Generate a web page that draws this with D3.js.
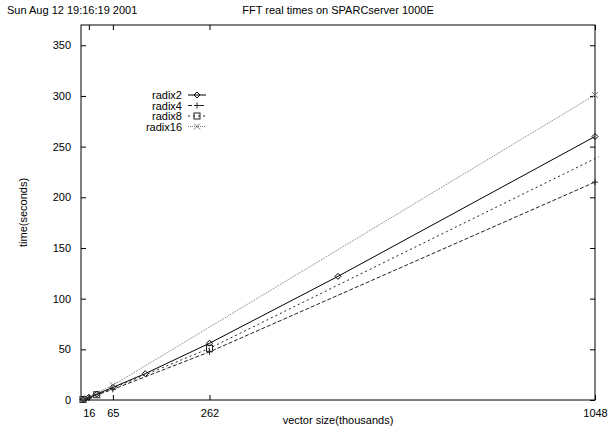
<!DOCTYPE html>
<html>
<head>
<meta charset="utf-8">
<style>
body { margin: 0; background: #fff; }
text { font-family: "Liberation Sans", Arial, sans-serif; font-size: 11px; fill: #000; }
.line { fill: none; stroke-width: 1; }
</style>
</head>
<body>
<svg width="609" height="434"></svg>
<script src="https://d3js.org/d3.v7.min.js"></script>
<script>
// vector sizes in thousands, times in seconds
var xTicks = [16, 65, 262, 1048];
var yTicks = [0, 50, 100, 150, 200, 250, 300, 350];

var radix2Size = [4, 8, 16, 32, 65, 131, 262, 524, 1048];
var radix2Time = [0.5, 1.2, 2.6, 5.8, 12.5, 26, 56, 122, 260];
var radix4Size = [4, 16, 65, 262, 1048];
var radix4Time = [0.5, 2.3, 10.5, 47.5, 215];
var radix8Size = [4, 32, 262, 2097];
var radix8Time = [0.5, 5.2, 51, 488];
var radix16Size = [4, 65, 1048];
var radix16Time = [0.6, 14.5, 301];

var series = [
  {name: "radix2", size: radix2Size, time: radix2Time, dash: null, color: "#000", mark: "diamond"},
  {name: "radix4", size: radix4Size, time: radix4Time, dash: "4,2", color: "#222", mark: "plus"},
  {name: "radix8", size: radix8Size, time: radix8Time, dash: "2,3", color: "#222", mark: "square"},
  {name: "radix16", size: radix16Size, time: radix16Time, dash: "1,1", color: "#777", mark: "cross"}
];

var svg = d3.select("svg");
var mLeft = 81, mRight = 595, mTop = 25, mBottom = 400;

var x = d3.scaleLinear().domain([0, 1048]).range([mLeft, mRight]);
var y = d3.scaleLinear().domain([0, 370]).range([mBottom, mTop]);

svg.append("clipPath").attr("id", "plot")
  .append("rect").attr("x", mLeft - 4).attr("y", mTop)
  .attr("width", mRight - mLeft + 8).attr("height", mBottom - mTop + 4);

// header texts
svg.append("text").attr("x", 7).attr("y", 14).text("Sun Aug 12 19:16:19 2001");
svg.append("text").attr("x", (mLeft + mRight) / 2).attr("y", 14)
  .attr("text-anchor", "middle").text("FFT real times on SPARCserver 1000E");

// axes, ticks pointing inward, mirrored on the opposite side
svg.append("g").attr("transform", "translate(0," + mBottom + ")")
  .call(d3.axisBottom(x).tickValues(xTicks).tickSize(-5).tickPadding(9).tickFormat(d3.format("d")))
  .call(g => g.select(".domain").remove());
svg.append("g").attr("transform", "translate(0," + mTop + ")")
  .call(d3.axisTop(x).tickValues(xTicks).tickSize(-5).tickFormat(""))
  .call(g => g.select(".domain").remove());
svg.append("g").attr("transform", "translate(" + mLeft + ",0)")
  .call(d3.axisLeft(y).tickValues(yTicks).tickSize(-5).tickPadding(10))
  .call(g => g.select(".domain").remove());
svg.append("g").attr("transform", "translate(" + mRight + ",0)")
  .call(d3.axisRight(y).tickValues(yTicks).tickSize(-5).tickFormat(""))
  .call(g => g.select(".domain").remove());
svg.selectAll(".tick text").style("font-size", "11px").style("font-family", "Liberation Sans, Arial, sans-serif");

svg.append("rect").attr("x", mLeft).attr("y", mTop)
  .attr("width", mRight - mLeft).attr("height", mBottom - mTop)
  .attr("fill", "none").attr("stroke", "#000");

svg.append("text").attr("x", (mLeft + mRight) / 2).attr("y", 424)
  .attr("text-anchor", "middle").text("vector size(thousands)");
svg.append("text").attr("transform", "translate(27," + ((mTop + mBottom) / 2) + ") rotate(-90)")
  .attr("text-anchor", "middle").text("time(seconds)");

function marker(g, type, cx, cy, color) {
  if (type === "diamond") {
    g.append("path").attr("d", "M" + cx + "," + (cy - 3) + "L" + (cx + 3) + "," + cy + "L" + cx + "," + (cy + 3) + "L" + (cx - 3) + "," + cy + "Z")
      .attr("fill", "none").attr("stroke", color);
  } else if (type === "plus") {
    g.append("path").attr("d", "M" + (cx - 3) + "," + cy + "H" + (cx + 3) + "M" + cx + "," + (cy - 3) + "V" + (cy + 3))
      .attr("stroke", color);
  } else if (type === "square") {
    g.append("rect").attr("x", cx - 3).attr("y", cy - 3).attr("width", 6).attr("height", 6)
      .attr("fill", "none").attr("stroke", color);
  } else {
    g.append("path").attr("d", "M" + (cx - 3) + "," + (cy - 3) + "L" + (cx + 3) + "," + (cy + 3) + "M" + (cx + 3) + "," + (cy - 3) + "L" + (cx - 3) + "," + (cy + 3))
      .attr("stroke", color);
  }
}

var line = d3.line().x(d => x(d[0])).y(d => y(d[1]));

series.forEach(function(s, i) {
  var pts = s.size.map((v, j) => [v, s.time[j]]);
  var g = svg.append("g").attr("clip-path", "url(#plot)");
  g.append("path").datum(pts).attr("class", "line").attr("d", line)
    .attr("stroke", s.color).attr("stroke-dasharray", s.dash);
  pts.filter(p => p[0] <= 1048 && p[1] <= 370)
    .forEach(p => marker(g, s.mark, x(p[0]), y(p[1]), s.color));

  // legend
  var ly = 95 + i * 10.5;
  svg.append("text").attr("x", 182).attr("y", ly + 4).attr("text-anchor", "end").text(s.name);
  svg.append("line").attr("x1", 188).attr("x2", 206).attr("y1", ly).attr("y2", ly)
    .attr("stroke", s.color).attr("stroke-dasharray", s.dash);
  marker(svg, s.mark, 197, ly, s.color);
});
</script>
</body>
</html>
